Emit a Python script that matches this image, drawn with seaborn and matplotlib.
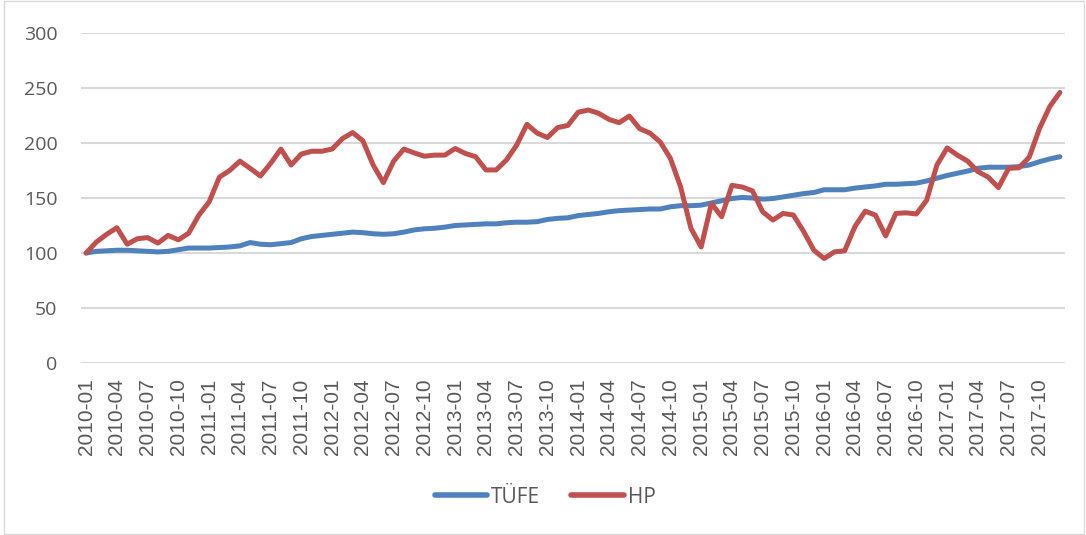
import pandas as pd
import matplotlib
matplotlib.use("Agg")
import matplotlib.pyplot as plt
import seaborn as sns
from matplotlib.patches import Rectangle

# Monthly series, 2010-01 .. 2017-12
years = list(range(2010, 2018))
months = [f"{y}-{m:02d}" for y in years for m in range(1, 13)]

tufe = [100, 101.5, 102, 102.5, 102.5, 102, 101.5, 101, 101.5, 103, 104.5, 104.5,
        104.5, 105, 105.5, 106.5, 109.5, 108, 107.5, 108.5, 109.5, 113, 115, 116,
        117, 118, 119, 118.5, 117.5, 117, 117.5, 119, 121, 122, 122.5, 123.5,
        125, 125.5, 126, 126.5, 126.5, 127.5, 128, 128, 128.5, 130.5, 131.5, 132,
        134, 135, 136, 137.5, 138.5, 139, 139.5, 140, 140, 142, 143, 143,
        143.5, 145.5, 147.5, 149.5, 150.5, 150, 149, 149.5, 151, 152.5, 154, 155,
        157.5, 157.5, 157.5, 159, 160, 161, 162.5, 162.5, 163, 163.5, 165.5, 168,
        170.5, 172.5, 174.5, 177, 178, 178, 178, 178.5, 180, 183, 185.5, 187.5]

hp = [100, 110, 117, 123, 108, 113, 114, 109, 116, 112, 118, 134.5,
      146.5, 169, 175, 183.5, 177, 170, 181.5, 194.5, 180, 190, 192.5, 192.5,
      194.5, 204, 209.5, 202, 180, 164, 183.5, 194.5, 191, 188, 189, 189,
      195, 190.5, 187.5, 175.5, 175.5, 184.5, 198, 217, 209, 205, 214, 216,
      228, 230, 227, 221.5, 218.5, 224.5, 213, 209, 201, 186, 160, 122.5,
      105.5, 145, 133, 161.5, 160, 156.5, 137.5, 130, 136, 134.5, 119.5, 102.5,
      95, 101, 102, 124, 138, 134.5, 115.5, 136, 136.5, 135.5, 148, 180,
      195.5, 189, 183.5, 174, 169, 159.5, 177, 177.5, 187, 213, 233, 246]

series_names = ["TÜFE", "HP"]
colors = ["#4F81BD", "#C0504D"]

df = pd.DataFrame({"idx": list(range(len(months))) * 2,
                   "value": tufe + hp,
                   "seri": ["TÜFE"] * len(tufe) + ["HP"] * len(hp)})

sns.set_theme(style="white")
plt.rcParams["font.family"] = ["Open Sans", "DejaVu Sans"]

fig = plt.figure(figsize=(10.86, 5.35), dpi=100)
ax = fig.add_axes([0.0746, 0.3215, 0.9061, 0.6168])

sns.lineplot(data=df, x="idx", y="value", hue="seri", palette=colors,
             hue_order=series_names, linewidth=3.6, ax=ax, legend=False,
             solid_capstyle="round", solid_joinstyle="round")

ax.set_xlim(-0.5, len(months) - 0.5)
ax.set_ylim(0, 300)
ax.set_yticks(range(0, 301, 50))
ax.yaxis.grid(True, color="#d9d9d9", linewidth=1.5)
ax.set_axisbelow(True)
for s in ax.spines.values():
    s.set_visible(False)

ax.set_xticks(range(0, len(months), 3))
ax.set_xticklabels(months[::3], rotation=90, fontsize=15,
                   family=["Liberation Sans", "DejaVu Sans"], color="#595959")
ax.tick_params(axis="x", length=0, pad=11)
ax.tick_params(axis="y", length=0, pad=17, labelsize=14, labelcolor="#595959")
ax.set_xlabel("")
ax.set_ylabel("")

handles = [plt.Line2D([], [], color=c, linewidth=4, solid_capstyle="round") for c in colors]
fig.legend(handles, series_names, loc="center", bbox_to_anchor=(0.502, 0.071),
           ncol=2, frameon=False, fontsize=15, handlelength=2.5,
           columnspacing=1.5, handletextpad=0.2, labelcolor="#595959")

fig.patches.append(Rectangle((0.004, 0.002), 0.994, 0.996, transform=fig.transFigure,
                             fill=False, edgecolor="#d9d9d9", linewidth=1))

fig.savefig("out.png", dpi=100)
